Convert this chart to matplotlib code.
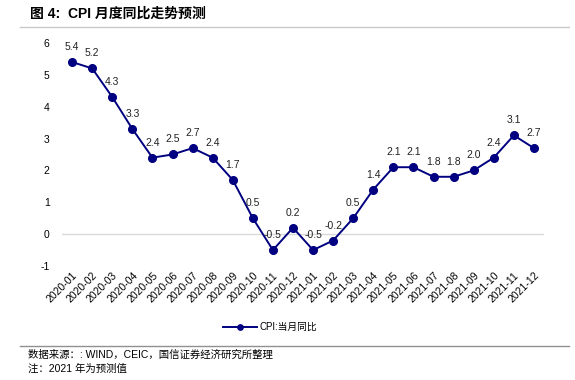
import matplotlib.pyplot as plt
import numpy as np

plt.rcParams['font.family'] = ['Liberation Sans', 'Noto Sans CJK SC', 'DejaVu Sans']
plt.rcParams['axes.unicode_minus'] = False

months = ['2020-01', '2020-02', '2020-03', '2020-04', '2020-05', '2020-06',
          '2020-07', '2020-08', '2020-09', '2020-10', '2020-11', '2020-12',
          '2021-01', '2021-02', '2021-03', '2021-04', '2021-05', '2021-06',
          '2021-07', '2021-08', '2021-09', '2021-10', '2021-11', '2021-12']
cpi = [5.4, 5.2, 4.3, 3.3, 2.4, 2.5, 2.7, 2.4, 1.7, 0.5, -0.5, 0.2,
       -0.5, -0.2, 0.5, 1.4, 2.1, 2.1, 1.8, 1.8, 2.0, 2.4, 3.1, 2.7]
series_name = 'CPI:当月同比'
title = '图 4:  CPI 月度同比走势预测'
source = '数据来源：: WIND，CEIC，国信证券经济研究所整理'
note = '注：2021 年为预测值'

fig = plt.figure(figsize=(5.75, 3.8), dpi=100)
ax = fig.add_axes([0.108, 0.300, 0.838, 0.587])

x = np.arange(len(months))
line, = ax.plot(x, cpi, color='#000080', lw=1.4, marker='o', ms=5.5, label=series_name)
for xi, v in zip(x, cpi):
    ax.annotate(f'{v:.1f}', (xi, v), xytext=(0, 10.8), textcoords='offset points',
                ha='center', va='center', fontsize=7.5, color='#222222')

ax.axhline(0, color='#d9d9d9', lw=1, zorder=0)
ax.set_xlim(-0.5, len(months) - 0.5)
ax.set_ylim(-1, 6)
ax.set_yticks(range(-1, 7))
ax.set_xticks(x)
ax.set_xticklabels(months, rotation=45, ha='right', rotation_mode='anchor', fontsize=7.5)
ax.tick_params(axis='y', labelsize=7.5, length=0, pad=9)
ax.tick_params(axis='x', length=0, pad=3)
for s in ax.spines.values():
    s.set_visible(False)

fig.legend(handles=[line], loc='center', bbox_to_anchor=(0.47, 0.139), frameon=False,
           fontsize=7, handlelength=3.5, markerscale=0.7, handletextpad=0.3)

fig.text(0.052, 0.965, title, fontsize=10, fontweight='bold', va='center')
fig.add_artist(plt.Line2D([0.035, 0.99], [0.929, 0.929], color='#c8c8c8', lw=1))
fig.add_artist(plt.Line2D([0.035, 0.99], [0.089, 0.089], color='#909090', lw=1))
fig.text(0.049, 0.066, source, fontsize=7.5, va='center')
fig.text(0.049, 0.029, note, fontsize=7.5, va='center')

fig.savefig('out.png', dpi=100)
